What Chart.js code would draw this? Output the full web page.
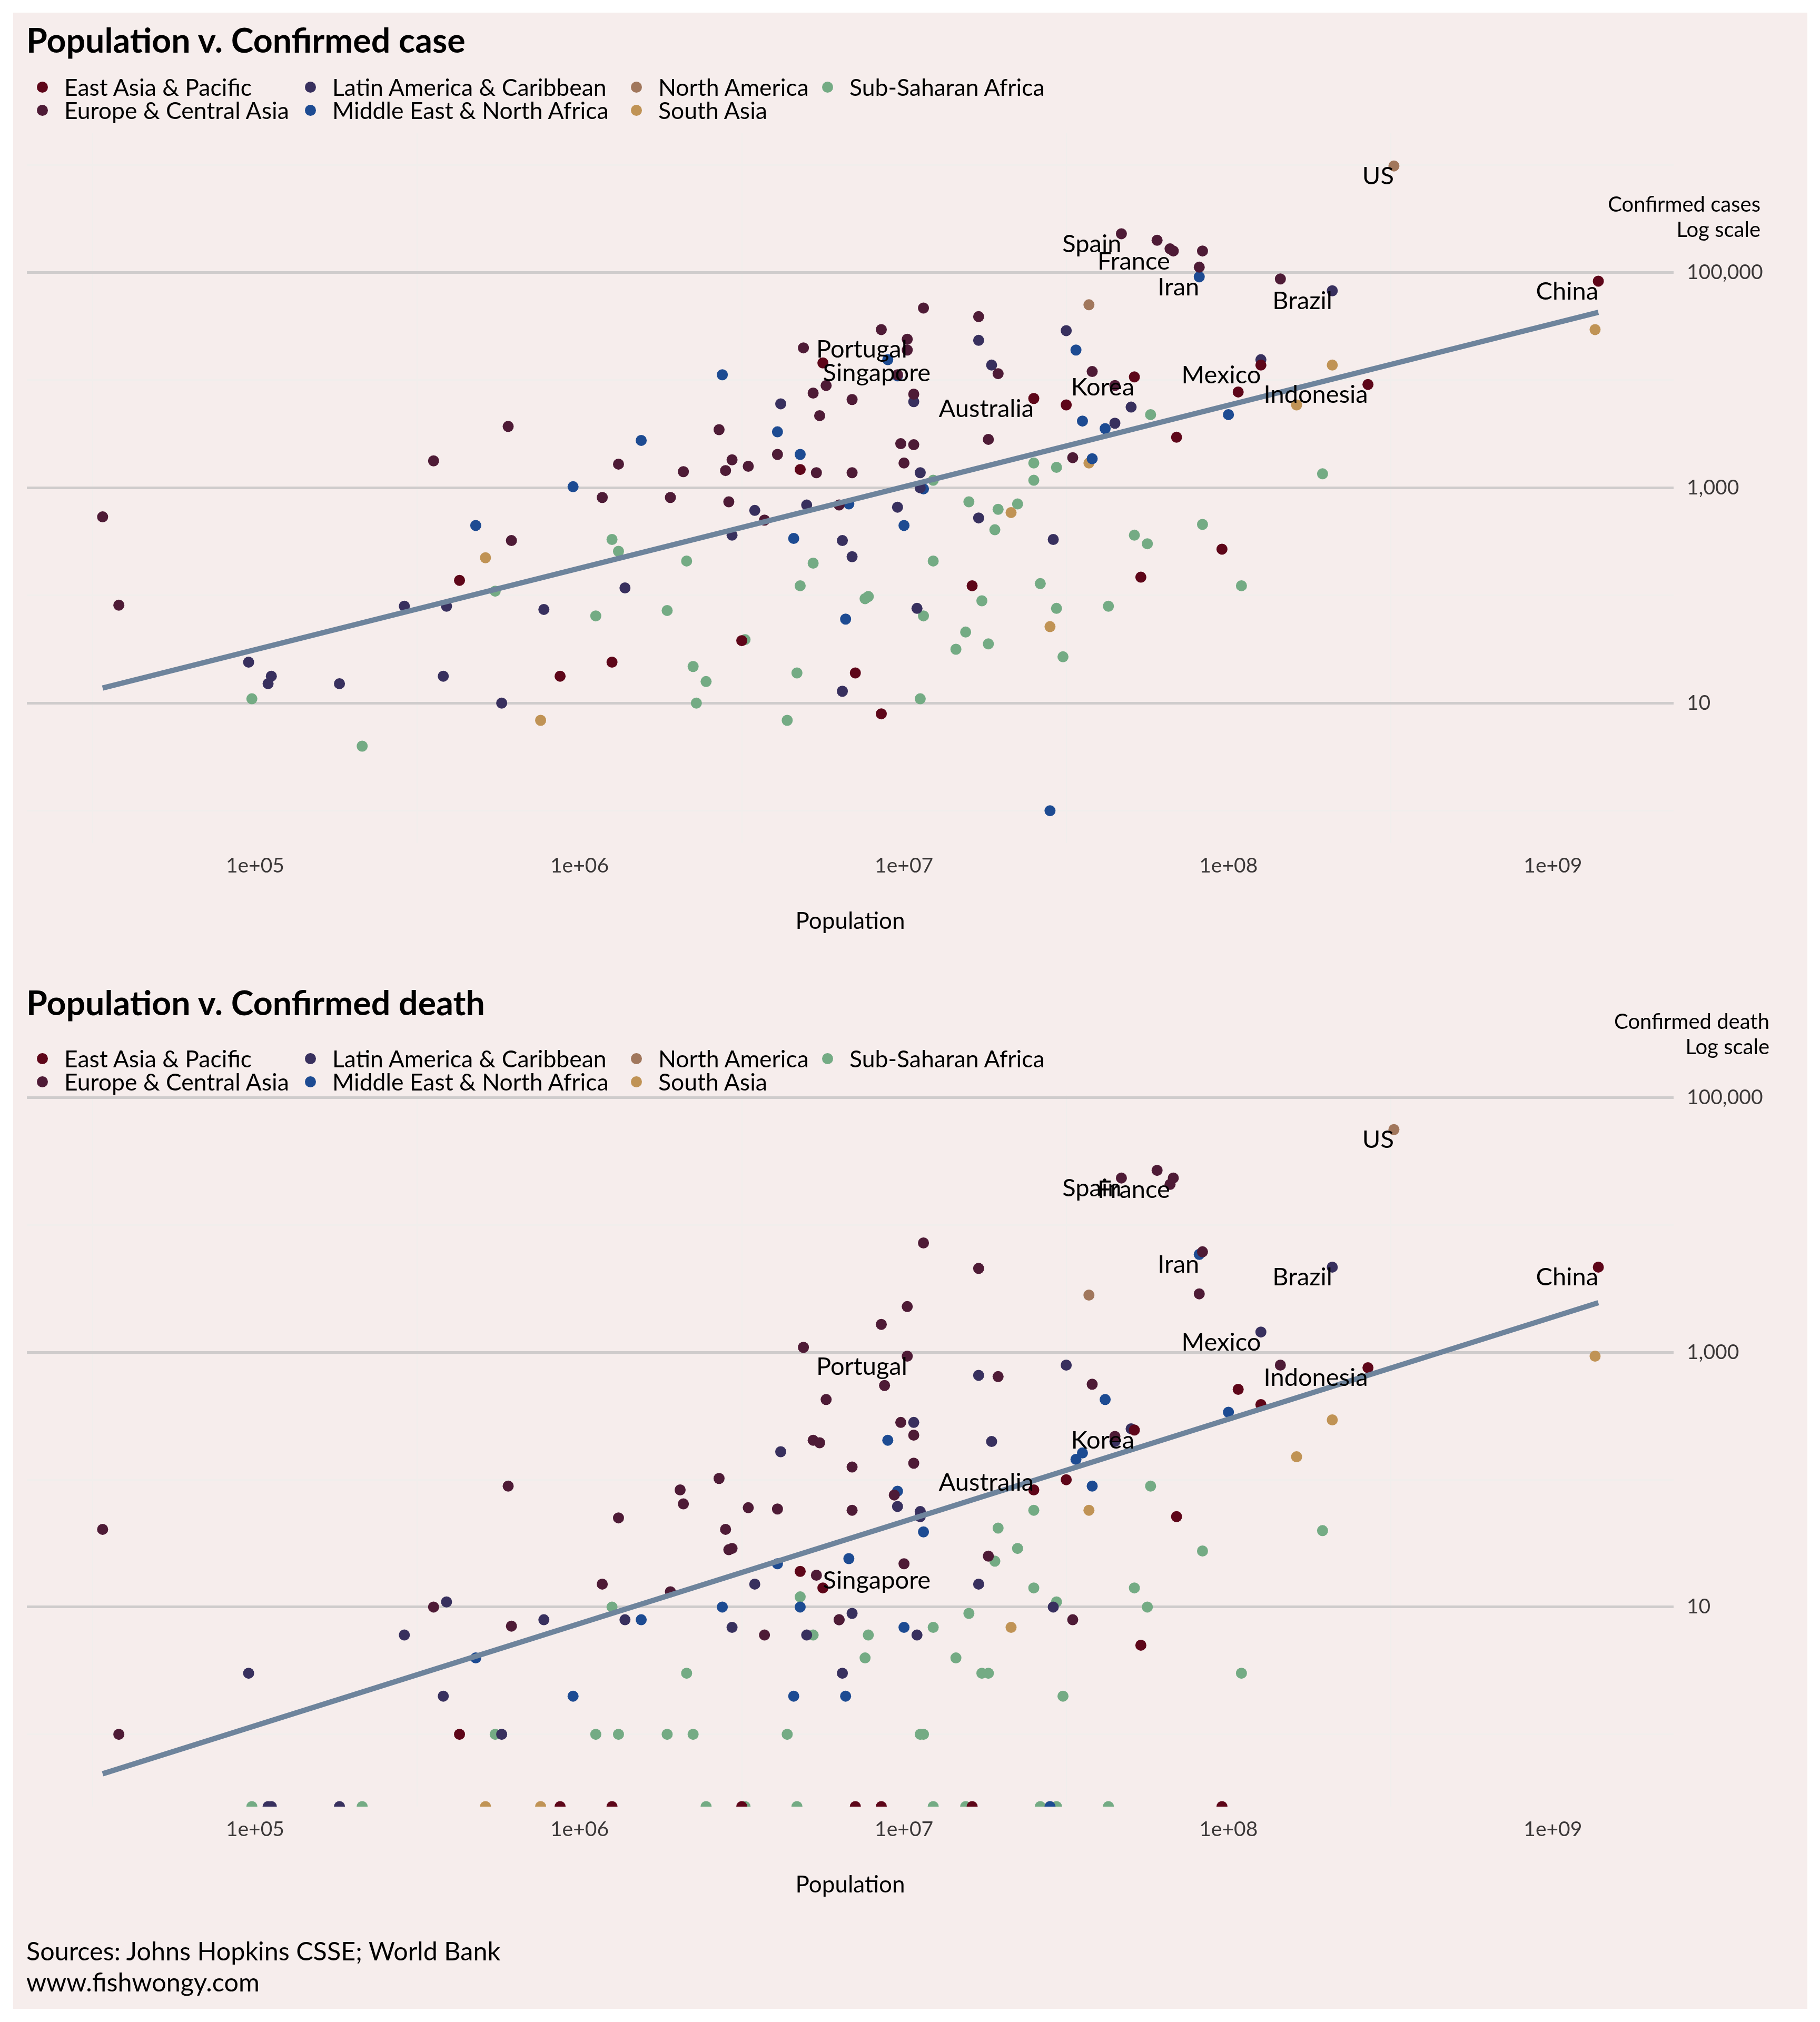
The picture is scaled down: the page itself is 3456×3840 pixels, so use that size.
<!DOCTYPE html>
<html>
<head>
<meta charset="utf-8">
<title>Population v. Confirmed</title>
<script src="https://cdn.jsdelivr.net/npm/chart.js@4"></script>
<style>
  html, body { margin: 0; background: #fff; }
  body { position: relative; width: 3456px; height: 3840px; overflow: hidden; font-family: Lato, "Noto Sans", sans-serif; color: #000; }
  #panel { position: absolute; left: 25px; top: 24px; width: 3407px; height: 3791px; background: #f6edec; }
  canvas { position: absolute; left: 0; }
  #c1 { top: 0; }
  #c2 { top: 1850px; }
  .title { position: absolute; left: 50px; font-size: 64.5px; line-height: 70px; font-weight: bold; }
  .legend { position: absolute; left: 0; display: grid; grid-auto-flow: column; grid-template-rows: 44px 44px; grid-template-columns: 509px 619px 363px 500px; font-size: 44.5px; line-height: 44px; }
  .legend div { position: relative; padding-left: 122px; white-space: nowrap; }
  .legend i { position: absolute; left: 70px; top: 12px; width: 21px; height: 21px; border-radius: 50%; }
  #source { position: absolute; left: 50px; top: 3675px; font-size: 48.5px; line-height: 59px; }
</style>
</head>
<body>
<div id="panel"></div>
<canvas id="c1" width="3456" height="1850"></canvas>
<canvas id="c2" width="3456" height="1990"></canvas>
<div class="title" style="top:40px">Population v. Confirmed case</div>
<div class="title" style="top:1868px">Population v. Confirmed death</div>
<div class="legend" id="legend1" style="top:143px"></div>
<div class="legend" id="legend2" style="top:1988px"></div>
<div id="source">Sources: Johns Hopkins CSSE; World Bank<br>www.fishwongy.com</div>
<script>
// all pairs are [log10 population, log10 count]
var regions = ['East Asia & Pacific', 'Europe & Central Asia', 'Latin America & Caribbean', 'Middle East & North Africa', 'North America', 'South Asia', 'Sub-Saharan Africa'];
var regionColors = ['#5e0619', '#4e1b36', '#38305e', '#1d4b92', '#a1775c', '#c09355', '#74ab84'];

var casesEastAsia = [[6.75,4.16],[7.40,3.83],[7.50,3.77],[6.68,3.17],[7.21,2.09],[6.50,1.58],[6.85,1.28],[5.63,2.14],[5.94,1.25],[6.10,1.38],[6.93,0.90],[9.14,4.92],[7.71,4.03],[8.10,4.14],[8.03,3.89],[8.43,3.96],[7.84,3.47],[7.98,2.43],[7.73,2.17]];
var casesEurope = [[7.06,4.67],[7.23,4.59],[6.93,4.47],[7.01,4.38],[7.01,4.28],[6.69,4.30],[7.29,4.06],[7.58,4.08],[7.65,3.95],[6.98,4.05],[6.76,3.95],[6.72,3.88],[6.84,3.82],[7.03,3.87],[6.74,3.67],[6.43,3.54],[7.26,3.45],[6.99,3.41],[7.03,3.40],[6.61,3.31],[6.47,3.26],[6.45,3.16],[6.52,3.20],[6.73,3.14],[6.84,3.14],[7.00,3.23],[7.52,3.28],[6.46,2.87],[6.57,2.70],[6.80,2.84],[5.78,3.57],[5.55,3.25],[6.12,3.22],[6.32,3.15],[4.53,2.73],[4.58,1.91],[5.79,2.51],[6.07,2.91],[6.28,2.91],[7.67,5.36],[7.78,5.30],[7.82,5.22],[7.83,5.20],[7.92,5.20],[7.91,5.05],[8.16,4.94]];
var casesLatin = [[7.50,4.46],[7.23,4.37],[7.27,4.14],[7.65,3.60],[6.62,3.78],[7.03,3.80],[7.05,3.14],[7.05,3.00],[6.54,2.79],[6.70,2.84],[6.98,2.82],[6.47,2.56],[6.81,2.51],[6.84,2.36],[7.23,2.72],[7.46,2.52],[7.04,1.88],[6.81,1.11],[4.98,1.38],[5.05,1.25],[5.04,1.18],[5.26,1.18],[5.46,1.90],[5.59,1.90],[5.58,1.25],[5.76,1.00],[5.89,1.87],[6.14,2.07],[8.32,4.83],[8.10,4.19],[7.70,3.75]];
var casesMiddleEast = [[6.44,4.05],[6.95,4.19],[6.98,4.04],[7.53,4.28],[7.55,3.62],[7.62,3.55],[6.61,3.52],[6.68,3.31],[7.58,3.27],[7.06,2.99],[6.83,2.85],[7.00,2.65],[6.66,2.53],[6.82,1.78],[6.19,3.44],[5.98,3.01],[5.68,2.65],[7.91,4.96],[8.00,3.68],[7.45,0.00]];
var casesNorthAmerica = [[7.57,4.70],[8.51,5.99]];
var casesSouthAsia = [[7.57,3.23],[7.33,2.77],[7.45,1.71],[5.71,2.35],[5.88,0.84],[9.13,4.47],[8.32,4.14],[8.21,3.77]];
var casesAfrica = [[7.09,3.07],[7.40,3.23],[7.47,3.19],[7.40,3.07],[7.20,2.87],[7.29,2.80],[7.35,2.85],[7.28,2.61],[7.09,2.32],[6.72,2.30],[6.68,2.09],[6.89,1.99],[6.88,1.97],[7.42,2.11],[7.24,1.95],[7.06,1.81],[7.47,1.88],[7.63,1.90],[7.19,1.66],[7.26,1.55],[7.16,1.50],[7.49,1.43],[6.51,1.59],[6.67,1.28],[7.05,1.04],[4.99,1.04],[5.33,0.60],[5.74,2.04],[6.10,2.52],[6.12,2.41],[6.33,2.32],[6.05,1.81],[6.27,1.86],[6.35,1.34],[6.39,1.20],[6.36,1.00],[6.64,0.84],[7.76,3.68],[8.29,3.13],[7.92,2.66],[7.71,2.56],[7.75,2.48],[8.04,2.09]];

var deathsEastAsia = [[7.40,1.92],[7.50,2.00],[6.68,1.28],[6.75,1.15],[9.14,3.67],[8.03,2.71],[8.43,2.88],[8.10,2.59],[7.71,2.39],[7.84,1.71],[7.73,0.70],[5.63,0.00]];
var deathsEurope = [[7.06,3.86],[7.23,3.66],[7.01,3.36],[6.93,3.22],[6.69,3.04],[7.01,2.97],[7.29,2.81],[7.58,2.75],[6.94,2.74],[6.76,2.63],[6.99,2.45],[7.03,2.35],[6.72,2.31],[6.74,2.29],[6.84,2.10],[7.03,2.13],[6.43,2.01],[6.52,1.78],[6.61,1.77],[6.84,1.76],[6.97,1.88],[6.45,1.61],[6.47,1.46],[6.46,1.45],[7.65,2.34],[7.26,1.40],[7.00,1.34],[6.73,1.25],[7.52,0.90],[6.80,0.90],[6.57,0.78],[4.53,1.61],[5.78,1.95],[6.12,1.70],[6.31,1.92],[6.32,1.81],[6.07,1.18],[6.28,1.12],[5.55,1.00],[5.79,0.85],[4.58,0.00],[7.67,4.37],[7.78,4.43],[7.83,4.37],[7.82,4.32],[7.91,3.46],[7.92,3.79],[8.16,2.90]];
var deathsLatin = [[7.23,2.82],[7.50,2.90],[7.03,2.45],[7.27,2.30],[6.62,2.22],[6.98,1.79],[7.05,1.75],[7.05,1.71],[7.65,2.30],[6.54,1.18],[7.23,1.18],[7.46,1.00],[6.84,0.95],[6.80,0.90],[6.47,0.84],[6.70,0.78],[7.04,0.78],[6.81,0.48],[5.59,1.04],[5.46,0.78],[5.89,0.90],[6.14,0.90],[4.98,0.48],[5.58,0.30],[5.76,0.00],[8.32,3.67],[8.10,3.16],[7.70,2.40]];
var deathsMiddleEast = [[6.95,2.31],[6.98,1.91],[7.62,2.63],[7.55,2.21],[7.53,2.16],[7.58,1.95],[7.06,1.59],[6.83,1.38],[6.61,1.34],[6.44,1.00],[6.68,1.00],[7.00,0.84],[6.66,0.30],[6.82,0.30],[6.19,0.90],[5.68,0.60],[5.98,0.30],[7.91,3.77],[8.00,2.53]];
var deathsNorthAmerica = [[7.57,3.45],[8.51,4.75]];
var deathsSouthAsia = [[7.57,1.76],[7.33,0.84],[9.13,2.97],[8.32,2.47],[8.21,2.18]];
var deathsAfrica = [[7.40,1.76],[7.29,1.62],[7.35,1.46],[7.28,1.36],[7.40,1.15],[6.68,1.08],[7.47,1.04],[7.20,0.95],[7.09,0.84],[6.72,0.78],[6.89,0.78],[6.88,0.60],[7.16,0.60],[7.24,0.48],[7.26,0.48],[7.49,0.30],[6.64,0.00],[7.05,0.00],[7.06,0.00],[6.10,1.00],[6.33,0.48],[5.74,0.00],[6.05,0.00],[6.12,0.00],[6.27,0.00],[6.35,0.00],[7.76,1.95],[8.29,1.60],[7.92,1.44],[7.71,1.15],[7.75,1.00],[8.04,0.48]];

// countries with no deaths yet sit on the bottom edge of the log axis (log10 population only)
var zeroDeathsEastAsia = [6.50,6.85,6.93,7.21,5.94,6.10,7.98];
var zeroDeathsEurope = [];
var zeroDeathsLatin = [5.04,5.05,5.26];
var zeroDeathsMiddleEast = [7.45];
var zeroDeathsNorthAmerica = [];
var zeroDeathsSouthAsia = [7.45,5.71,5.88];
var zeroDeathsAfrica = [6.51,6.67,7.09,7.19,7.42,7.47,7.63,4.99,5.33,6.39];

var casesTrend = [[4.53,1.14],[9.14,4.63]];
var deathsTrend = [[4.53,-0.31],[9.14,3.39]];

var casesLabels = [['US',8.51,5.99],['Spain',7.67,5.36],['France',7.82,5.20],['Iran',7.91,4.96],['Brazil',8.32,4.83],['China',9.14,4.92],['Mexico',8.10,4.14],['Indonesia',8.43,3.96],['Korea',7.71,4.03],['Australia',7.40,3.83],['Portugal',7.01,4.38]];
var deathsLabels = [['US',8.51,4.75],['Spain',7.67,4.37],['France',7.82,4.36],['Iran',7.91,3.77],['Brazil',8.32,3.67],['China',9.14,3.67],['Mexico',8.10,3.16],['Indonesia',8.43,2.88],['Korea',7.71,2.39],['Australia',7.40,2.06],['Portugal',7.01,2.97]];
var casesSingapore = ['Singapore',6.75,4.16];
var deathsSingapore = ['Singapore',6.75,1.29];

var xGridLogs = [4.5,5,5.5,6,6.5,7,7.5,8,8.5,9];
var xTickLabels = {5:'1e+05',6:'1e+06',7:'1e+07',8:'1e+08',9:'1e+09'};
var yGridLogs = [0,1,2,3,4,5,6];
var yTickLabels = {1:'10',3:'1,000',5:'100,000'};

var fontName = 'Lato, "Noto Sans", sans-serif';
var tickColor = '#3b3838';
var majorGrid = '#cfcccc';
var minorGrid = '#f1eeec';

function toPoints(pairs) {
  return pairs.map(function (p) { return { x: Math.pow(10, p[0]), y: Math.pow(10, p[1]) }; });
}

function logOf(v) { return Math.round(Math.log10(v) * 10) / 10; }

var panelText = {
  id: 'panelText',
  afterDatasetsDraw: function (chart, args, opts) {
    var ctx = chart.ctx, xs = chart.scales.x, ys = chart.scales.y;
    ctx.save();
    ctx.fillStyle = '#000';
    ctx.font = '47px ' + fontName;
    ctx.textBaseline = 'alphabetic';
    ctx.textAlign = 'right';
    opts.labels.forEach(function (l) {
      ctx.fillText(l[0], xs.getPixelForValue(Math.pow(10, l[1])), ys.getPixelForValue(Math.pow(10, l[2])) + 35);
    });
    ctx.textAlign = 'left';
    var s = opts.leftLabel;
    ctx.fillText(s[0], xs.getPixelForValue(Math.pow(10, s[1])), ys.getPixelForValue(Math.pow(10, s[2])) + 35);
    ctx.textAlign = 'right';
    ctx.font = '40px ' + fontName;
    ctx.textBaseline = 'middle';
    opts.note.forEach(function (line, i) {
      ctx.fillText(line, opts.noteX, opts.noteY + i * 48);
    });
    ctx.restore();
  }
};

function makeChart(id, series, zeros, trend, labels, leftLabel, note, noteX, noteY, yMin, yMax, top, axisHeight) {
  var datasets = [{
    type: 'line',
    label: 'trend',
    data: toPoints(trend),
    showLine: true,
    borderColor: '#6e849c',
    borderWidth: 10,
    pointRadius: 0,
    borderCapStyle: 'butt',
    order: 0,
    clip: 0
  }];
  regions.forEach(function (r, i) {
    var pts = toPoints(series[i]);
    zeros[i].forEach(function (lx) { pts.push({ x: Math.pow(10, lx), y: Math.pow(10, yMin) }); });
    datasets.push({
      label: r,
      data: pts,
      backgroundColor: regionColors[i],
      pointRadius: 10.5,
      pointBorderWidth: 0,
      order: i + 1,
      clip: 0
    });
  });
  return new Chart(id, {
    type: 'scatter',
    data: { datasets: datasets },
    plugins: [panelText],
    options: {
      responsive: false,
      animation: false,
      devicePixelRatio: 1,
      layout: { padding: { left: 51, top: top, right: 0, bottom: 0 } },
      plugins: {
        legend: { display: false },
        tooltip: { enabled: false },
        panelText: { labels: labels, leftLabel: leftLabel, note: note, noteX: noteX, noteY: noteY }
      },
      scales: {
        x: {
          type: 'logarithmic',
          bounds: 'data',
          min: Math.pow(10, 4.2965),
          max: Math.pow(10, 9.372),
          afterBuildTicks: function (axis) { axis.ticks = xGridLogs.map(function (l) { return { value: Math.pow(10, l) }; }); },
          afterFit: function (axis) { axis.height = axisHeight; },
          border: { display: false },
          grid: {
            drawTicks: false,
            lineWidth: 2,
            color: function (c) { return xTickLabels[logOf(c.tick.value)] ? 'rgba(0,0,0,0)' : minorGrid; }
          },
          ticks: {
            autoSkip: false,
            maxRotation: 0,
            padding: 20,
            color: tickColor,
            font: { family: fontName, size: 39 },
            callback: function (v) { return xTickLabels[logOf(v)] || ''; }
          },
          title: {
            display: true,
            text: 'Population',
            color: '#000',
            font: { family: fontName, size: 44 },
            padding: { top: 0, bottom: axisHeight - 149 - 26 }
          }
        },
        y: {
          type: 'logarithmic',
          position: 'right',
          bounds: 'data',
          min: Math.pow(10, yMin),
          max: Math.pow(10, yMax),
          afterBuildTicks: function (axis) { axis.ticks = yGridLogs.filter(function (l) { return l >= yMin && l <= yMax; }).map(function (l) { return { value: Math.pow(10, l) }; }); },
          afterFit: function (axis) { axis.width = 278; },
          border: { display: false },
          grid: {
            drawTicks: false,
            color: function (c) { return yTickLabels[logOf(c.tick.value)] ? majorGrid : minorGrid; },
            lineWidth: function (c) { return yTickLabels[logOf(c.tick.value)] ? 5 : 3; }
          },
          ticks: {
            autoSkip: false,
            padding: 25,
            color: tickColor,
            font: { family: fontName, size: 39 },
            callback: function (v) { return yTickLabels[logOf(v)] || ''; }
          }
        }
      }
    }
  });
}

function fillLegend(id) {
  var box = document.getElementById(id);
  regions.forEach(function (r, i) {
    var item = document.createElement('div');
    var dot = document.createElement('i');
    dot.style.background = regionColors[i];
    item.appendChild(dot);
    item.appendChild(document.createTextNode(r));
    box.appendChild(item);
  });
}

makeChart('c1',
  [casesEastAsia, casesEurope, casesLatin, casesMiddleEast, casesNorthAmerica, casesSouthAsia, casesAfrica],
  [[], [], [], [], [], [], []],
  casesTrend, casesLabels, casesSingapore, ['Confirmed cases', 'Log scale'], 3343, 389, -0.3, 6.294, 253, 249);

makeChart('c2',
  [deathsEastAsia, deathsEurope, deathsLatin, deathsMiddleEast, deathsNorthAmerica, deathsSouthAsia, deathsAfrica],
  [zeroDeathsEastAsia, zeroDeathsEurope, zeroDeathsLatin, zeroDeathsMiddleEast, zeroDeathsNorthAmerica, zeroDeathsSouthAsia, zeroDeathsAfrica],
  deathsTrend, deathsLabels, deathsSingapore, ['Confirmed death', 'Log scale'], 3360, 91, -0.568, 5.02, 230, 409);

fillLegend('legend1');
fillLegend('legend2');
</script>
</body>
</html>
